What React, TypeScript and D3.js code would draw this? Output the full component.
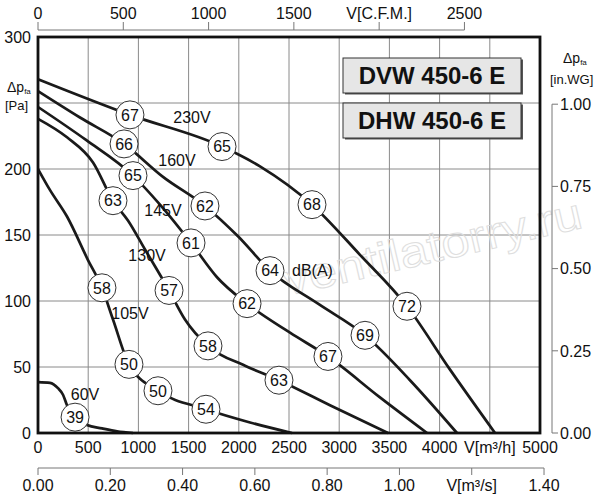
import * as d3 from 'd3';

// Fan curves: [flow m3/h, pressure Pa]
const curve230 = [[0, 268], [2211, 202], [3207, 135], [4104, 48], [4552, 0]];
const curve160 = [[0, 259], [418, 239], [1245, 194], [1992, 149], [2789, 98], [3705, 40], [4173, 0]];
const curve145 = [[0, 247], [478, 222], [1215, 173], [1783, 118], [2510, 76], [3406, 27], [3875, 0]];
const curve130 = [[0, 238], [289, 224], [548, 205], [896, 161], [1066, 139], [1464, 86], [2062, 51], [2908, 21], [3486, 0]];
const curve105 = [[0, 200], [120, 184], [289, 164], [498, 131], [747, 86], [2112, 8], [2530, 0]];
const curve60 = [[0, 38.6], [120, 38], [199, 34], [249, 29], [289, 21], [488, 6], [637, 3.5], [787, 1.3], [946, 0]];

// Noise markers: [flow m3/h, pressure Pa, dB(A)]
const markers230 = [[916, 241, 67], [1833, 217, 65], [2729, 173, 68], [3675, 96, 72]];
const markers160 = [[857, 219, 66], [1663, 172, 62], [2311, 123, 64], [3257, 74, 69]];
const markers145 = [[946, 195, 65], [1524, 144, 61], [2082, 98, 62], [2888, 58, 67]];
const markers130 = [[747, 176, 63], [1305, 108, 57], [1693, 66, 58], [2400, 40, 63]];
const markers105 = [[637, 110, 58], [906, 52, 50], [1195, 32, 50], [1673, 18, 54]];
const markers60 = [[369, 12, 39]];

// Voltage labels: [flow, pressure, text]
const voltLabels: [number, number, string][] = [
  [1534, 239, '230V'],
  [1384, 207, '160V'],
  [1245, 169, '145V'],
  [1086, 135, '130V'],
  [916, 91, '105V'],
  [468, 29, '60V'],
];

const flowTicks = [0, 500, 1000, 1500, 2000, 2500, 3000, 3500, 4000, 4500, 5000];
const flowLabels = ['0', '500', '1000', '1500', '2000', '2500', '3000', '3500', '4000', 'V[m³/h]', '5000'];
const paTicks = [0, 50, 100, 150, 200, 250, 300];
const cfmTicks = [0, 500, 1000, 1500, 2000, 2500];
const cfmLabels = ['0', '500', '1000', '1500', 'V[C.F.M.]', '2500'];
const m3sTicks = [0, 0.2, 0.4, 0.6, 0.8, 1.0, 1.2, 1.4];
const m3sLabels = ['0.00', '0.20', '0.40', '0.60', '0.80', '1.00', 'V[m³/s]', '1.40'];
const inwgTicks = [0, 0.25, 0.5, 0.75, 1.0];

const FONT = '"Liberation Sans", Arial, sans-serif';

export default function App() {
  const x = d3.scaleLinear().domain([0, 5000]).range([38, 540]);
  const y = d3.scaleLinear().domain([0, 300]).range([433, 37]);
  const xCfm = (v: number) => x(v * 1.69901);
  const xM3s = (v: number) => x(v * 3600);
  const yInwg = (v: number) => y(v * 249.089);

  const line = d3
    .line<number[]>()
    .x((d) => x(d[0]))
    .y((d) => y(d[1]))
    .curve(d3.curveMonotoneX);

  const series = [
    [curve230, markers230],
    [curve160, markers160],
    [curve145, markers145],
    [curve130, markers130],
    [curve105, markers105],
    [curve60, markers60],
  ];

  const [x0, x1] = x.range();
  const [yb, yt] = y.range();

  return (
    <svg width={600} height={500} style={{ position: 'absolute', left: 0, top: 0, background: '#fff' }} fontFamily={FONT}>
      {/* grid */}
      {flowTicks.slice(1, -1).map((t) => (
        <line key={'gx' + t} x1={x(t)} x2={x(t)} y1={yt} y2={yb} stroke="#8a8a8a" strokeWidth={1} />
      ))}
      {paTicks.slice(1, -1).map((t) => (
        <line key={'gy' + t} x1={x0} x2={x1} y1={y(t)} y2={y(t)} stroke="#8a8a8a" strokeWidth={1} />
      ))}

      {/* watermark */}
      <text
        x={433}
        y={262}
        fontSize={44}
        textAnchor="middle"
        fill="none"
        stroke="#dedede"
        strokeWidth={1}
        textLength={305}
        lengthAdjust="spacingAndGlyphs"
        transform="rotate(-13 433 250)"
      >
        ventilatorry.ru
      </text>

      {/* legend boxes */}
      {[
        [58, 'DVW 450-6 E'],
        [103, 'DHW 450-6 E'],
      ].map(([top, label]) => (
        <g key={label as string}>
          <rect x={345} y={(top as number) + 1.5} width={178} height={35} fill="#555" />
          <rect x={343} y={top as number} width={178} height={35} fill="#e6e6e6" stroke="#333" strokeWidth={1} />
          <text x={432} y={(top as number) + 26} fontSize={24} fontWeight="bold" textAnchor="middle" fill="#111">
            {label}
          </text>
        </g>
      ))}

      {/* curves */}
      {series.map(([pts, marks], i) => {
        const all = [...pts, ...marks.map((m) => [m[0], m[1]])].sort((a, b) => a[0] - b[0]);
        return <path key={'c' + i} d={line(all) || ''} fill="none" stroke="#1a1a1a" strokeWidth={2.7} />;
      })}

      {/* markers */}
      {series.map(([, marks], i) =>
        marks.map((m, j) => (
          <g key={'m' + i + '-' + j} transform={`translate(${x(m[0])},${y(m[1])})`}>
            <circle r={14} fill="#fff" stroke="#333" strokeWidth={1} />
            <text fontSize={16} textAnchor="middle" dy="0.36em" fill="#111">
              {m[2]}
            </text>
          </g>
        ))
      )}

      {voltLabels.map(([f, p, t]) => (
        <text key={t} x={x(f)} y={y(p)} dy="0.36em" fontSize={16} textAnchor="middle" fill="#111">
          {t}
        </text>
      ))}
      <text x={x(2530)} y={y(123)} dy="0.36em" fontSize={16} fill="#111">
        dB(A)
      </text>

      {/* frame */}
      <rect x={x0} y={yt} width={x1 - x0} height={yb - yt} fill="none" stroke="#111" strokeWidth={2.8} />

      {/* left axis labels */}
      {paTicks.map((t) =>
        t === 250 ? null : (
          <text key={'py' + t} x={31} y={y(t)} dy="0.36em" fontSize={16} textAnchor="end" fill="#111">
            {t}
          </text>
        )
      )}
      <text x={7} y={92} fontSize={14} fill="#111">
        Δp<tspan fontSize={8} dy={2}>fa</tspan>
      </text>
      <text x={5} y={110} fontSize={13} fill="#111">
        [Pa]
      </text>

      {/* bottom flow labels */}
      {flowTicks.map((t, i) => (
        <text key={'fx' + t} x={x(t)} y={447} dy="0.36em" fontSize={16} textAnchor="middle" fill="#111">
          {flowLabels[i]}
        </text>
      ))}

      {/* top CFM axis */}
      <line x1={xCfm(0)} x2={xCfm(2500)} y1={30} y2={30} stroke="#777" strokeWidth={1} />
      {cfmTicks.map((t, i) => (
        <g key={'cfm' + t}>
          <line x1={xCfm(t)} x2={xCfm(t)} y1={22} y2={30} stroke="#777" strokeWidth={1} />
          <text x={xCfm(t)} y={13} dy="0.36em" fontSize={16} textAnchor="middle" fill="#111">
            {cfmLabels[i]}
          </text>
        </g>
      ))}

      {/* bottom m3/s axis */}
      <line x1={xM3s(0)} x2={xM3s(1.4)} y1={468} y2={468} stroke="#777" strokeWidth={1} />
      {m3sTicks.map((t, i) => (
        <g key={'m3s' + t}>
          <line x1={xM3s(t)} x2={xM3s(t)} y1={468} y2={475} stroke="#777" strokeWidth={1} />
          <text x={xM3s(t)} y={485} dy="0.36em" fontSize={16} textAnchor="middle" fill="#111">
            {m3sLabels[i]}
          </text>
        </g>
      ))}

      {/* right in.WG axis */}
      <line x1={552} x2={552} y1={yInwg(0)} y2={yInwg(1)} stroke="#777" strokeWidth={1} />
      {inwgTicks.map((t) => (
        <g key={'iw' + t}>
          <line x1={552} x2={558} y1={yInwg(t)} y2={yInwg(t)} stroke="#777" strokeWidth={1} />
          <text x={560} y={yInwg(t)} dy="0.36em" fontSize={16} fill="#111">
            {t.toFixed(2)}
          </text>
        </g>
      ))}
      <text x={563} y={63} fontSize={14} fill="#111">
        Δp<tspan fontSize={8} dy={2}>fa</tspan>
      </text>
      <text x={550} y={84} fontSize={13} fill="#111">
        [in.WG]
      </text>
    </svg>
  );
}
